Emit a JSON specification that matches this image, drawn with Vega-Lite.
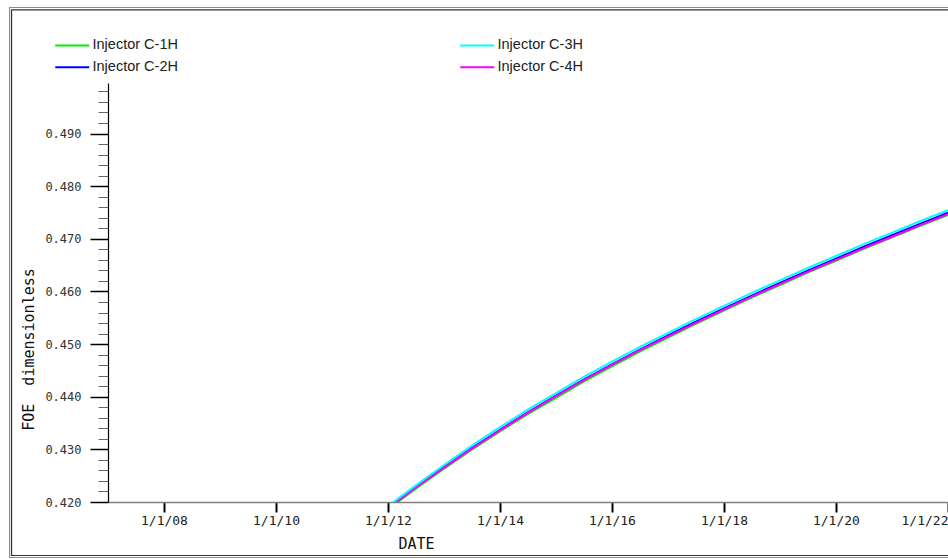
{
  "$schema": "https://vega.github.io/schema/vega-lite/v6.json",
  "width": 840,
  "height": 419,
  "autosize": {"type": "none"},
  "padding": {"left": 108, "top": 83, "right": 0, "bottom": 57},
  "background": "white",
  "config": {"view": {"stroke": null}},
  "datasets": {
    "foe": [
      {"well": "Injector C-1H", "date": "2012-01-01", "foe": 0.4186},
      {"well": "Injector C-1H", "date": "2012-07-01", "foe": 0.42255},
      {"well": "Injector C-1H", "date": "2013-01-01", "foe": 0.42634},
      {"well": "Injector C-1H", "date": "2013-07-01", "foe": 0.42995},
      {"well": "Injector C-1H", "date": "2014-01-01", "foe": 0.43342},
      {"well": "Injector C-1H", "date": "2014-07-01", "foe": 0.43668},
      {"well": "Injector C-1H", "date": "2015-01-01", "foe": 0.4398},
      {"well": "Injector C-1H", "date": "2015-07-01", "foe": 0.44285},
      {"well": "Injector C-1H", "date": "2016-01-01", "foe": 0.44576},
      {"well": "Injector C-1H", "date": "2016-07-01", "foe": 0.44855},
      {"well": "Injector C-1H", "date": "2017-01-01", "foe": 0.45123},
      {"well": "Injector C-1H", "date": "2017-07-01", "foe": 0.45384},
      {"well": "Injector C-1H", "date": "2018-01-01", "foe": 0.45637},
      {"well": "Injector C-1H", "date": "2018-07-01", "foe": 0.45882},
      {"well": "Injector C-1H", "date": "2019-01-01", "foe": 0.46122},
      {"well": "Injector C-1H", "date": "2019-07-01", "foe": 0.46356},
      {"well": "Injector C-1H", "date": "2020-01-01", "foe": 0.46584},
      {"well": "Injector C-1H", "date": "2020-07-01", "foe": 0.46809},
      {"well": "Injector C-1H", "date": "2021-01-01", "foe": 0.47028},
      {"well": "Injector C-1H", "date": "2021-07-01", "foe": 0.47243},
      {"well": "Injector C-1H", "date": "2022-01-01", "foe": 0.47456},
      {"well": "Injector C-2H", "date": "2012-01-01", "foe": 0.4189},
      {"well": "Injector C-2H", "date": "2012-07-01", "foe": 0.42285},
      {"well": "Injector C-2H", "date": "2013-01-01", "foe": 0.42664},
      {"well": "Injector C-2H", "date": "2013-07-01", "foe": 0.43025},
      {"well": "Injector C-2H", "date": "2014-01-01", "foe": 0.43372},
      {"well": "Injector C-2H", "date": "2014-07-01", "foe": 0.43703},
      {"well": "Injector C-2H", "date": "2015-01-01", "foe": 0.4402},
      {"well": "Injector C-2H", "date": "2015-07-01", "foe": 0.44325},
      {"well": "Injector C-2H", "date": "2016-01-01", "foe": 0.44616},
      {"well": "Injector C-2H", "date": "2016-07-01", "foe": 0.44895},
      {"well": "Injector C-2H", "date": "2017-01-01", "foe": 0.45163},
      {"well": "Injector C-2H", "date": "2017-07-01", "foe": 0.45424},
      {"well": "Injector C-2H", "date": "2018-01-01", "foe": 0.45677},
      {"well": "Injector C-2H", "date": "2018-07-01", "foe": 0.45922},
      {"well": "Injector C-2H", "date": "2019-01-01", "foe": 0.46162},
      {"well": "Injector C-2H", "date": "2019-07-01", "foe": 0.46396},
      {"well": "Injector C-2H", "date": "2020-01-01", "foe": 0.46624},
      {"well": "Injector C-2H", "date": "2020-07-01", "foe": 0.46849},
      {"well": "Injector C-2H", "date": "2021-01-01", "foe": 0.47068},
      {"well": "Injector C-2H", "date": "2021-07-01", "foe": 0.47283},
      {"well": "Injector C-2H", "date": "2022-01-01", "foe": 0.47496},
      {"well": "Injector C-4H", "date": "2012-01-01", "foe": 0.4188},
      {"well": "Injector C-4H", "date": "2012-07-01", "foe": 0.42275},
      {"well": "Injector C-4H", "date": "2013-01-01", "foe": 0.42654},
      {"well": "Injector C-4H", "date": "2013-07-01", "foe": 0.43015},
      {"well": "Injector C-4H", "date": "2014-01-01", "foe": 0.43362},
      {"well": "Injector C-4H", "date": "2014-07-01", "foe": 0.43693},
      {"well": "Injector C-4H", "date": "2015-01-01", "foe": 0.4401},
      {"well": "Injector C-4H", "date": "2015-07-01", "foe": 0.44315},
      {"well": "Injector C-4H", "date": "2016-01-01", "foe": 0.44606},
      {"well": "Injector C-4H", "date": "2016-07-01", "foe": 0.44885},
      {"well": "Injector C-4H", "date": "2017-01-01", "foe": 0.45148},
      {"well": "Injector C-4H", "date": "2017-07-01", "foe": 0.45404},
      {"well": "Injector C-4H", "date": "2018-01-01", "foe": 0.45657},
      {"well": "Injector C-4H", "date": "2018-07-01", "foe": 0.45902},
      {"well": "Injector C-4H", "date": "2019-01-01", "foe": 0.4614},
      {"well": "Injector C-4H", "date": "2019-07-01", "foe": 0.46372},
      {"well": "Injector C-4H", "date": "2020-01-01", "foe": 0.466},
      {"well": "Injector C-4H", "date": "2020-07-01", "foe": 0.46822},
      {"well": "Injector C-4H", "date": "2021-01-01", "foe": 0.4704},
      {"well": "Injector C-4H", "date": "2021-07-01", "foe": 0.47255},
      {"well": "Injector C-4H", "date": "2022-01-01", "foe": 0.47466},
      {"well": "Injector C-3H", "date": "2012-01-01", "foe": 0.4192},
      {"well": "Injector C-3H", "date": "2012-07-01", "foe": 0.42315},
      {"well": "Injector C-3H", "date": "2013-01-01", "foe": 0.42704},
      {"well": "Injector C-3H", "date": "2013-07-01", "foe": 0.4307},
      {"well": "Injector C-3H", "date": "2014-01-01", "foe": 0.43422},
      {"well": "Injector C-3H", "date": "2014-07-01", "foe": 0.43753},
      {"well": "Injector C-3H", "date": "2015-01-01", "foe": 0.4407},
      {"well": "Injector C-3H", "date": "2015-07-01", "foe": 0.44375},
      {"well": "Injector C-3H", "date": "2016-01-01", "foe": 0.44666},
      {"well": "Injector C-3H", "date": "2016-07-01", "foe": 0.44945},
      {"well": "Injector C-3H", "date": "2017-01-01", "foe": 0.45213},
      {"well": "Injector C-3H", "date": "2017-07-01", "foe": 0.45474},
      {"well": "Injector C-3H", "date": "2018-01-01", "foe": 0.45727},
      {"well": "Injector C-3H", "date": "2018-07-01", "foe": 0.45972},
      {"well": "Injector C-3H", "date": "2019-01-01", "foe": 0.46212},
      {"well": "Injector C-3H", "date": "2019-07-01", "foe": 0.46446},
      {"well": "Injector C-3H", "date": "2020-01-01", "foe": 0.46674},
      {"well": "Injector C-3H", "date": "2020-07-01", "foe": 0.46899},
      {"well": "Injector C-3H", "date": "2021-01-01", "foe": 0.47118},
      {"well": "Injector C-3H", "date": "2021-07-01", "foe": 0.47333},
      {"well": "Injector C-3H", "date": "2022-01-01", "foe": 0.47546}
    ]
  },
  "layer": [
    {
      "data": {"values": [{}]},
      "mark": {"type": "rect", "filled": false, "color": "#8c8c8c", "strokeWidth": 1.2, "clip": false},
      "encoding": {
        "x": {"datum": {"year": 2005, "month": 3, "date": 30, "utc": true}, "type": "temporal",
              "scale": {"type": "utc", "domain": [{"year": 2007, "month": 1, "date": 1, "utc": true}, {"year": 2022, "month": 1, "date": 1, "utc": true}]}, "axis": null},
        "x2": {"datum": {"year": 2024, "month": 1, "date": 1, "utc": true}},
        "y": {"datum": 0.51394, "type": "quantitative", "scale": {"domain": [0.42, 0.4996], "zero": false, "nice": false}, "axis": null},
        "y2": {"datum": 0.40946}
      }
    },
    {
      "data": {"values": [{}]},
      "mark": {"type": "rect", "filled": false, "color": "#333333", "strokeWidth": 1.2, "clip": false},
      "encoding": {
        "x": {"datum": {"year": 2005, "month": 4, "date": 12, "utc": true}, "type": "temporal",
              "scale": {"type": "utc", "domain": [{"year": 2007, "month": 1, "date": 1, "utc": true}, {"year": 2022, "month": 1, "date": 1, "utc": true}]}, "axis": null},
        "x2": {"datum": {"year": 2024, "month": 1, "date": 1, "utc": true}},
        "y": {"datum": 0.51351, "type": "quantitative", "scale": {"domain": [0.42, 0.4996], "zero": false, "nice": false}, "axis": null},
        "y2": {"datum": 0.40984}
      }
    },
    {
      "data": {"name": "foe"},
      "mark": {"type": "line", "strokeOpacity": 0, "clip": true},
      "encoding": {
        "x": {"field": "date", "type": "temporal",
              "scale": {"type": "utc", "domain": [{"year": 2007, "month": 1, "date": 1, "utc": true}, {"year": 2022, "month": 1, "date": 1, "utc": true}]}, "axis": null},
        "y": {"field": "foe", "type": "quantitative", "scale": {"domain": [0.42, 0.4996], "zero": false, "nice": false},
              "axis": {"orient": "left", "values": [0.422, 0.424, 0.426, 0.428, 0.432, 0.434, 0.436, 0.438, 0.442, 0.444, 0.446, 0.448, 0.452, 0.454, 0.456, 0.458, 0.462, 0.464, 0.466, 0.468, 0.472, 0.474, 0.476, 0.478, 0.482, 0.484, 0.486, 0.488, 0.492, 0.494, 0.496, 0.498],
                       "labels": false, "domain": false, "grid": false, "tickSize": 10, "tickWidth": 1, "tickColor": "#666666", "title": null}},
        "detail": {"field": "well"}
      }
    },
    {
      "data": {"name": "foe"},
      "mark": {"type": "line", "strokeWidth": 2, "clip": true},
      "encoding": {
        "x": {"field": "date", "type": "temporal",
              "scale": {"type": "utc", "domain": [{"year": 2007, "month": 1, "date": 1, "utc": true}, {"year": 2022, "month": 1, "date": 1, "utc": true}]},
              "axis": {"orient": "bottom",
                       "values": [{"year": 2008, "month": 1, "date": 1, "utc": true}, {"year": 2010, "month": 1, "date": 1, "utc": true}, {"year": 2012, "month": 1, "date": 1, "utc": true}, {"year": 2014, "month": 1, "date": 1, "utc": true}, {"year": 2016, "month": 1, "date": 1, "utc": true}, {"year": 2018, "month": 1, "date": 1, "utc": true}, {"year": 2020, "month": 1, "date": 1, "utc": true}, {"year": 2022, "month": 1, "date": 1, "utc": true}],
                       "format": "%-m/%-d/%y", "labelFont": "DejaVu Sans Mono", "labelFontSize": 13, "labelColor": "#222222", "labelPadding": 2, "labelFlush": true, "labelOverlap": false,
                       "tickSize": 10, "tickWidth": 2, "tickColor": "#000000", "domainColor": "#808080", "domainWidth": 1.5, "grid": false,
                       "title": "DATE", "titleFont": "DejaVu Sans Mono", "titleFontSize": 15, "titleFontWeight": "normal", "titleColor": "#111111",
                       "titleX": 308, "titleY": 46, "titleAlign": "center", "titleBaseline": "alphabetic"}},
        "y": {"field": "foe", "type": "quantitative", "scale": {"domain": [0.42, 0.4996], "zero": false, "nice": false},
              "axis": {"orient": "left", "values": [0.42, 0.43, 0.44, 0.45, 0.46, 0.47, 0.48, 0.49], "format": ".3f",
                       "labelFont": "DejaVu Sans Mono", "labelFontSize": 12, "labelColor": "#333333", "labelPadding": 9,
                       "tickSize": 18, "tickWidth": 1.5, "tickColor": "#000000", "domainColor": "#000000", "domainWidth": 1.2, "grid": false,
                       "title": "FOE\u00a0 dimensionless", "titleFont": "DejaVu Sans Mono", "titleFontSize": 15, "titleFontWeight": "normal", "titleColor": "#111111",
                       "titleAngle": 270, "titleX": -75, "titleY": 266, "titleAlign": "center", "titleBaseline": "alphabetic"}},
        "color": {"field": "well", "type": "nominal",
                  "scale": {"domain": ["Injector C-1H", "Injector C-2H", "Injector C-3H", "Injector C-4H"], "range": ["#00ee00", "#0000ff", "#00ffff", "#ff00ff"]},
                  "legend": {"orient": "none", "legendX": -43, "legendY": -45, "columns": 2, "title": null,
                             "symbolType": "M-2.833,0H2.833", "symbolSize": 144, "symbolStrokeWidth": 2,
                             "labelFont": "Liberation Sans", "labelFontSize": 14.5, "labelColor": "#222222", "labelOffset": 13,
                             "columnPadding": 278, "rowPadding": 7, "padding": 0}}
      }
    }
  ],
  "resolve": {"axis": {"x": "independent", "y": "independent"}}
}
